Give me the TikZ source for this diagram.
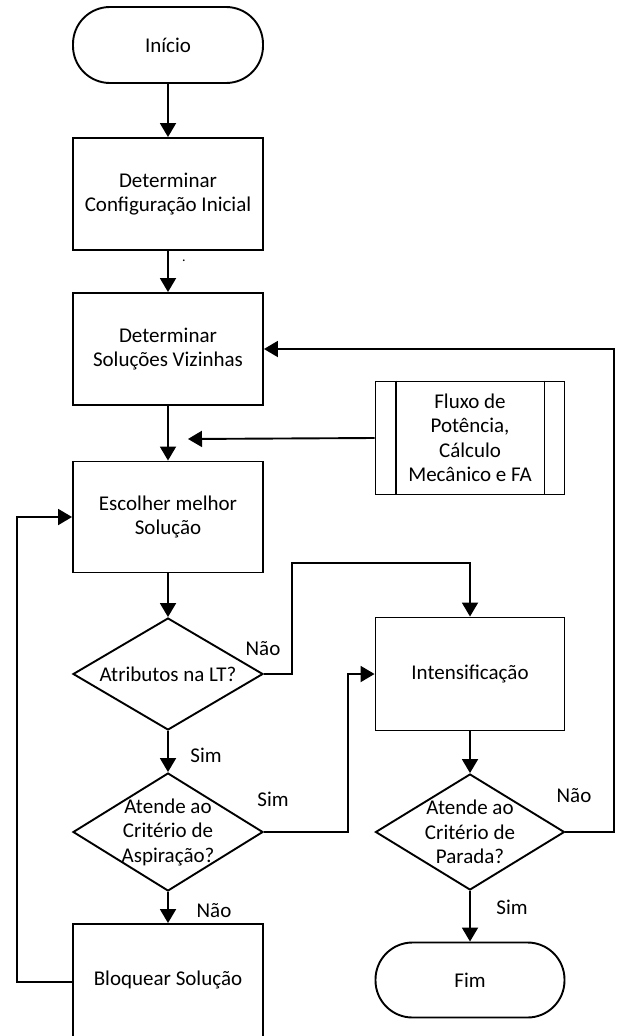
\documentclass[tikz,border=0pt]{standalone}
\usepackage{fontspec}
\setmainfont{Carlito}
\usetikzlibrary{arrows.meta,shapes.geometric,calc}

\begin{document}
\begin{tikzpicture}[x=1pt,y=-1pt,
  line width=1.9pt,
  every node/.style={font=\fontsize{21}{24.5}\selectfont, align=center},
  proc/.style={draw, rectangle, minimum width=190pt, minimum height=112pt, inner sep=0pt},
  term/.style={draw, rectangle, rounded corners=37pt, minimum width=190pt, minimum height=76pt, inner sep=0pt},
  decision/.style={draw, diamond, minimum width=190pt, minimum height=116pt, inner sep=0pt},
  lbl/.style={inner sep=0pt},
  arr/.style={-{Triangle[length=14pt,width=16pt]}}
]
\useasboundingbox (0,0) rectangle (616,1036);

% left column
\node[term] (inicio) at (168,45) {Início};
\node[proc] (det1) at (168,194) {Determinar\\Configuração Inicial};
\node[proc] (det2) at (168,349) {Determinar\\Soluções Vizinhas};
\node[proc, minimum height=111pt] (escolher) at (168,517) {Escolher melhor\\Solução};
\node[decision, minimum height=112pt] (dec1) at (168,674) {};
\node[lbl] (dec1txt) at (dec1) {Atributos na LT?};
\node[decision, minimum height=118pt] (dec2) at (168,832) {};
\node[lbl] (dec2txt) at (dec2) {Atende ao\\Critério de\\Aspiração?};
\node[proc, minimum height=116pt] (bloq) at (168,982) {};
\node[lbl] (bloqtxt) at (168,980) {Bloquear Solução};

% right column
\node[proc, minimum width=189pt, minimum height=113pt] (pred) at (470,438) {Fluxo de\\Potência,\\Cálculo\\Mecânico e FA};
\draw ($(pred.north west)+(21,0)$) -- ($(pred.south west)+(21,0)$);
\draw ($(pred.north east)+(-21,0)$) -- ($(pred.south east)+(-21,0)$);
\node[proc, minimum width=189pt, minimum height=113pt] (intens) at (470,674) {Intensificação};
\node[decision, minimum width=189pt] (dec3) at (470,832) {};
\node[lbl] (dec3txt) at (dec3) {Atende ao\\Critério de\\Parada?};
\node[term, minimum width=189pt, minimum height=75pt] (fim) at (470,980) {Fim};

% stray mark
\node[lbl, font=\fontsize{14}{16}\selectfont, anchor=base] (mark) at (184,261) {.};

% branch labels
\node[lbl] (l1) at (263,649) {Não};
\node[lbl] (l2) at (206,755) {Sim};
\node[lbl] (l3) at (273,799) {Sim};
\node[lbl] (l4) at (214,911) {Não};
\node[lbl] (l5) at (574,796) {Não};
\node[lbl] (l6) at (512,907) {Sim};

% waypoints
\coordinate (inflow) at (188,439);
\coordinate (c1) at (292,674);
\coordinate (c1top) at (292,563);
\coordinate (c2) at (348,832);
\coordinate (c3) at (614,832);
\coordinate (c4) at (17,982);

% connectors
\draw[arr] (inicio) -- (det1);
\draw[arr] (det1) -- (det2);
\draw[arr] (det2) -- (escolher);
\draw[arr] (pred.west) -- (inflow);
\draw[arr] (escolher) -- (dec1);
\draw[arr] (dec1.south) -- (dec2.north);
\draw[arr] (dec2.south) -- (bloq.north);
\draw[arr] (dec1.east) -- (c1) -- (c1top) -| (intens.north);
\draw[arr] (dec2.east) -- (c2) |- (intens.west);
\draw[arr] (intens) -- (dec3.north);
\draw[arr] (dec3.south) -- (fim.north);
\draw[arr] (dec3.east) -- (c3) |- (det2.east);
\draw[arr] (bloq.west) -- (c4) |- (escolher.west);
\end{tikzpicture}
\end{document}
